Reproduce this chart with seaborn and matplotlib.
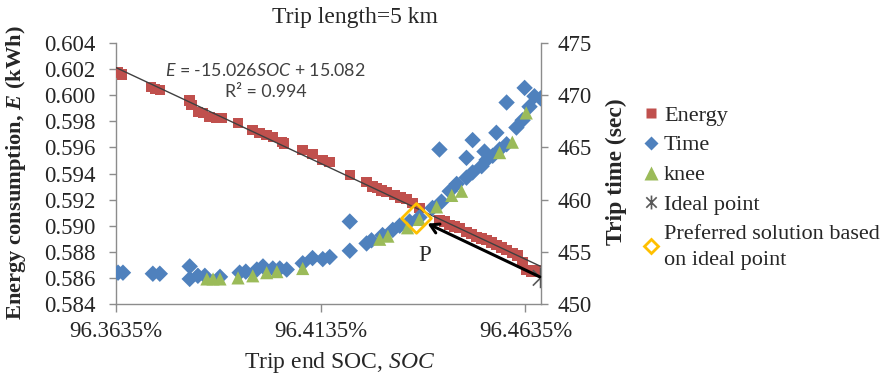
import numpy as np
import pandas as pd
import matplotlib
matplotlib.use("Agg")
import matplotlib.pyplot as plt
from matplotlib.path import Path
from matplotlib.lines import Line2D
from matplotlib.ticker import FixedLocator, FuncFormatter
import seaborn as sns

# ---------------- data ----------------
energy_soc = [96.3640, 96.3650, 96.3720, 96.3730, 96.3742, 96.3815, 96.3820, 96.3835,
              96.3847, 96.3864, 96.3881, 96.3894, 96.3933, 96.3969, 96.3986, 96.4003,
              96.4018, 96.4040, 96.4045, 96.4091, 96.4115, 96.4140, 96.4157, 96.4206,
              96.4247, 96.4262, 96.4272, 96.4284, 96.4296, 96.4315, 96.4330, 96.4345,
              96.4359, 96.4376, 96.4425, 96.4437, 96.4450, 96.4462, 96.4474, 96.4491,
              96.4503, 96.4515, 96.4528, 96.4540, 96.4552, 96.4564, 96.4577, 96.4589,
              96.4603, 96.4615, 96.4628, 96.4637, 96.4650, 96.4664]
energy_kwh = [0.60175, 0.60160, 0.60063, 0.60048, 0.60040, 0.59960, 0.59925, 0.59871,
              0.59864, 0.59833, 0.59825, 0.59825, 0.59787, 0.59733, 0.59710, 0.59695,
              0.59680, 0.59641, 0.59630, 0.59580, 0.59550, 0.59505, 0.59488, 0.59388,
              0.59335, 0.59300, 0.59289, 0.59270, 0.59258, 0.59235, 0.59215, 0.59205,
              0.59174, 0.59136, 0.59044, 0.59030, 0.59005, 0.58995, 0.58982, 0.58952,
              0.58935, 0.58913, 0.58900, 0.58890, 0.58870, 0.58852, 0.58835, 0.58814,
              0.58790, 0.58770, 0.58722, 0.58660, 0.58645, 0.58660]

time_soc = [96.3640, 96.3652, 96.3725, 96.3742, 96.3815, 96.3815, 96.3835, 96.3852,
            96.3889, 96.3937, 96.3952, 96.3979, 96.3994, 96.4018, 96.4035, 96.4052,
            96.4091, 96.4115, 96.4140, 96.4157, 96.4206, 96.4206, 96.4247, 96.4259,
            96.4286, 96.4311, 96.4328, 96.4352, 96.4376, 96.4408, 96.4425, 96.4430,
            96.4450, 96.4467, 96.4491, 96.4491, 96.4506, 96.4506, 96.4528, 96.4535,
            96.4540, 96.4555, 96.4564, 96.4572, 96.4589, 96.4589, 96.4613, 96.4628,
            96.4633, 96.4645, 96.4657, 96.4672]
time_sec = [453.0, 453.0, 452.9, 452.9, 453.6, 452.4, 452.7, 452.7,
            452.6, 453.0, 453.1, 453.3, 453.6, 453.4, 453.4, 453.3,
            453.9, 454.4, 454.3, 454.5, 457.9, 455.1, 455.8, 456.1,
            456.6, 457.1, 457.5, 457.9, 458.3, 459.2, 464.8, 459.8,
            460.8, 461.5, 462.1, 464.0, 465.7, 462.6, 463.2, 464.6,
            463.8, 464.2, 466.4, 464.8, 465.3, 469.3, 466.9, 467.6,
            470.7, 468.9, 469.9, 469.7]

knee_soc = [96.3857, 96.3872, 96.3889, 96.3933, 96.3969, 96.4003, 96.4028, 96.4091,
            96.4279, 96.4299, 96.4347, 96.4376, 96.4418, 96.4455, 96.4479, 96.4572,
            96.4603, 96.4637]
knee_sec = [452.4, 452.4, 452.4, 452.5, 452.7, 453.0, 453.1, 453.4,
            456.2, 456.5, 457.3, 458.1, 459.3, 460.4, 460.8, 464.5,
            465.5, 468.3]

ideal_soc = [96.4672]
ideal_sec = [452.5]
pref_soc = [96.4369]
pref_sec = [458.2]

x_ticks = [96.3635, 96.4135, 96.4635]
e_ticks = [0.584, 0.586, 0.588, 0.590, 0.592, 0.594, 0.596, 0.598, 0.600, 0.602, 0.604]
t_ticks = [450, 455, 460, 465, 470, 475]

legend_labels = ["Energy", "Time", "knee", "Ideal point", "Preferred solution based\non ideal point"]

# ---------------- style ----------------
sns.set_style("white")
plt.rcParams["font.family"] = ["Liberation Serif", "DejaVu Serif"]
plt.rcParams["mathtext.fontset"] = "custom"
plt.rcParams["mathtext.rm"] = "Liberation Serif"
plt.rcParams["mathtext.it"] = "Liberation Serif:italic"
plt.rcParams["mathtext.bf"] = "Liberation Serif:bold"
plt.rcParams["mathtext.bfit"] = "Liberation Serif:italic:bold"
plt.rcParams["mathtext.cal"] = "Lato:italic"

RED = "#C0504D"
BLUE = "#4F81BD"
GREEN = "#9BBB59"
ORANGE = "#FFC000"
GRAYM = "#595959"
SPINE = "#8C8C8C"
FS = 16.5
LFS = 17

fig = plt.figure(figsize=(8.82, 3.79), dpi=100)
ax1 = fig.add_axes([116/882, 1-304/379, (541-116)/882, (304-43)/379])
ax2 = ax1.twinx()

ax1.set_xlim(96.3635, 96.4673)
ax1.set_ylim(0.584, 0.604)
ax2.set_ylim(450, 475)

star_path = Path([(0, -1), (0, 1), (-0.75, -0.75), (0.75, 0.75), (-0.75, 0.75), (0.75, -0.75)],
                 [Path.MOVETO, Path.LINETO, Path.MOVETO, Path.LINETO, Path.MOVETO, Path.LINETO])

# energy (primary)
sns.scatterplot(x=energy_soc, y=energy_kwh, ax=ax1, marker="s", s=58, color=RED,
                edgecolor="none", legend=False, zorder=3)
sns.regplot(x=np.array(energy_soc), y=np.array(energy_kwh), ax=ax1, scatter=False, ci=None,
            truncate=False, line_kws=dict(color="#404040", lw=1.0, zorder=4))
ax1.set_xlim(96.3635, 96.4673)
ax1.set_ylim(0.584, 0.604)

# time & knee (secondary)
sns.scatterplot(x=time_soc, y=time_sec, ax=ax2, marker="D", s=70, color=BLUE,
                edgecolor="none", legend=False, zorder=3)
sns.scatterplot(x=knee_soc, y=knee_sec, ax=ax2, marker="^", s=90, color=GREEN,
                edgecolor="none", legend=False, zorder=4)
ax2.scatter(ideal_soc, ideal_sec, marker=star_path, s=220, facecolor="none",
            edgecolor=GRAYM, linewidth=1.2, zorder=6)
ax2.scatter(pref_soc, pref_sec, marker="D", s=230, facecolor="none",
            edgecolor=ORANGE, linewidth=2.0, zorder=6)
ax2.annotate("", xy=(96.4396, 457.7), xytext=(96.4670, 452.6),
             arrowprops=dict(arrowstyle="->,head_length=0.6,head_width=0.35", color="black",
                             lw=2.2, shrinkA=0, shrinkB=0), zorder=7)
ax2.text(96.4389, 454.6, "P", fontsize=FS, ha="center", va="center", zorder=7)
ax2.set_ylim(450, 475)

# equation text
fig.text(265/882, 1-70/379, r"$\mathcal{E}$ = -15.026$\mathcal{SOC}$ + 15.082",
         fontsize=12.8, family="Lato", color="#404040", ha="center", va="center")
fig.text(266/882, 1-92/379, "R² = 0.994", fontsize=12.8,
         family="Lato", color="#404040", ha="center", va="center")

# axes cosmetics
for ax in (ax1, ax2):
    for s in ax.spines.values():
        s.set_visible(False)
ax1.spines["left"].set_visible(True)
ax1.spines["bottom"].set_visible(True)
ax2.spines["right"].set_visible(True)
for sp in (ax1.spines["left"], ax1.spines["bottom"], ax2.spines["right"]):
    sp.set_color(SPINE)
    sp.set_linewidth(1.0)

ax1.xaxis.set_major_locator(FixedLocator(x_ticks))
ax1.xaxis.set_major_formatter(FuncFormatter(lambda v, p: f"{v:.4f}%"))
ax1.yaxis.set_major_locator(FixedLocator(e_ticks))
ax1.yaxis.set_major_formatter(FuncFormatter(lambda v, p: f"{v:.3f}"))
ax2.yaxis.set_major_locator(FixedLocator(t_ticks))
ax2.yaxis.set_major_formatter(FuncFormatter(lambda v, p: f"{v:.0f}"))

ax1.tick_params(axis="x", direction="out", length=6, color=SPINE, width=1, labelsize=FS, pad=6,
                bottom=True)
ax1.tick_params(axis="y", direction="out", length=5, color=SPINE, width=1, labelsize=FS, pad=10,
                left=True)
ax2.tick_params(axis="y", direction="out", length=5, color=SPINE, width=1, labelsize=FS, pad=7,
                right=True)

ax1.set_xlabel(r"Trip end SOC, $\mathit{SOC}$", fontsize=LFS)
ax1.xaxis.set_label_coords(340/882, 1-350/379, transform=fig.transFigure)
ax1.set_ylabel(r"Energy consumption, $\mathbfit{E}$ (kWh)", fontsize=16.2, fontweight="bold")
ax1.yaxis.set_label_coords(28/882, 1-173/379, transform=fig.transFigure)
ax2.set_ylabel("Trip time (sec)", fontsize=LFS, fontweight="bold")
ax2.yaxis.set_label_coords(606/882, 1-172/379, transform=fig.transFigure)

fig.text(355/882, 1-17/379, "Trip length=5 km", fontsize=LFS, ha="center", va="center")

# legend
handles = [
    Line2D([], [], ls="none", marker="s", ms=6.5, mfc=RED, mec="none"),
    Line2D([], [], ls="none", marker="D", ms=7.5, mfc=BLUE, mec="none"),
    Line2D([], [], ls="none", marker="^", ms=10, mfc=GREEN, mec="none"),
    Line2D([], [], ls="none", marker=star_path, ms=10, mfc="none", mec=GRAYM, mew=1.2),
    Line2D([], [], ls="none", marker="D", ms=7.5, mfc="none", mec=ORANGE, mew=2),
]
leg = fig.legend(handles, legend_labels, loc="upper left", bbox_to_anchor=(644/882, 1-105/379),
                 frameon=False, fontsize=16, handlelength=0.6, handletextpad=0.3,
                 labelspacing=0.42, borderpad=0, borderaxespad=0)
for t in leg.get_texts():
    t.set_linespacing(1.5)

fig.savefig("out.png", dpi=100)
